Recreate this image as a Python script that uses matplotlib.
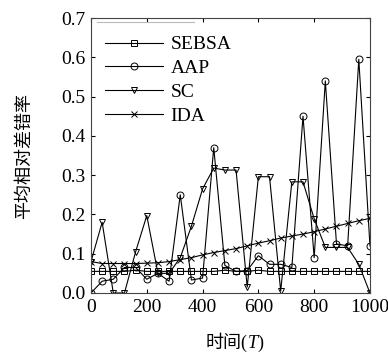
import numpy as np
import matplotlib
matplotlib.use('Agg')
import matplotlib.pyplot as plt
from matplotlib.lines import Line2D

# x axis: time steps (T)
time_T = list(range(0, 1001, 40))

# average relative error rate for each method
sebsa = [0.055, 0.055, 0.055, 0.055, 0.058, 0.055, 0.055, 0.055, 0.055, 0.055,
         0.055, 0.055, 0.058, 0.055, 0.055, 0.058, 0.055, 0.055, 0.055, 0.055,
         0.055, 0.055, 0.055, 0.055, 0.055, 0.055]
aap = [0.0, 0.03, 0.035, 0.065, 0.065, 0.035, 0.05, 0.03, 0.25, 0.033,
       0.038, 0.37, 0.07, 0.055, 0.057, 0.095, 0.073, 0.073, 0.065, 0.45,
       0.09, 0.54, 0.125, 0.12, 0.595, 0.12]
sc = [0.08, 0.18, 0.0, 0.0, 0.105, 0.197, 0.05, 0.05, 0.09, 0.17,
      0.265, 0.318, 0.313, 0.313, 0.015, 0.296, 0.296, 0.005, 0.283, 0.283,
      0.189, 0.116, 0.116, 0.116, 0.073, 0.0]
ida = [0.08, 0.075, 0.075, 0.075, 0.075, 0.076, 0.077, 0.08, 0.085, 0.09,
       0.097, 0.103, 0.108, 0.113, 0.12, 0.127, 0.133, 0.14, 0.145, 0.15,
       0.156, 0.163, 0.17, 0.177, 0.184, 0.19]

series = [('SEBSA', sebsa, 's'), ('AAP', aap, 'o'), ('SC', sc, 'v'), ('IDA', ida, 'x')]

plt.rcParams['font.family'] = ['Liberation Serif', 'Noto Sans CJK SC']

fig = plt.figure(figsize=(3.88, 3.58), dpi=100)
ax = fig.add_axes([0.2345, 0.1816, 0.719, 0.768])

for name, vals, mk in series:
    ms = 4 if mk == 'x' else 5
    ax.plot(time_T, vals, color='k', lw=0.8, marker=mk, markersize=ms,
            markerfacecolor='none', markeredgecolor='k', markeredgewidth=0.7,
            label=name)

ax.set_xlim(0, 1000)
ax.set_ylim(0, 0.7)
ax.set_xticks(range(0, 1001, 200))
ax.set_yticks(np.arange(0, 0.71, 0.1))
ax.yaxis.set_major_formatter(matplotlib.ticker.FormatStrFormatter('%.1f'))
ax.tick_params(direction='in', top=True, right=True, length=3, width=0.8,
               labelsize=14, pad=4)
for sp in ax.spines.values():
    sp.set_linewidth(0.8)
    sp.set_color('#444444')

ax.set_ylabel('平均相对差错率', fontsize=13, labelpad=20)

leg = ax.legend(loc='upper left', bbox_to_anchor=(0.0, 0.985), frameon=False,
                fontsize=14, handlelength=3.0, handletextpad=0.4,
                labelspacing=0.32, borderaxespad=0.3)

# faint remnant of the legend box edge
ax.add_line(Line2D([0.02, 0.37], [0.987, 0.987], transform=ax.transAxes,
                   color='#bbbbbb', lw=0.8))

# x label "时间(T)" with italic T, built from pieces on one baseline
fig.canvas.draw()
r = fig.canvas.get_renderer()
base_y = 1 - 348 / 358
parts = [('时间(', 'normal'), ('T', 'italic'), (')', 'normal')]
texts = [fig.text(0, base_y, s, fontsize=13, style=st, va='baseline') for s, st in parts]
widths = [t.get_window_extent(r).width for t in texts]
x0 = (91 + 370) / 2 - sum(widths) / 2 + 4
for t, w in zip(texts, widths):
    t.set_x(x0 / 388)
    x0 += w

fig.savefig('out.png', dpi=100)
